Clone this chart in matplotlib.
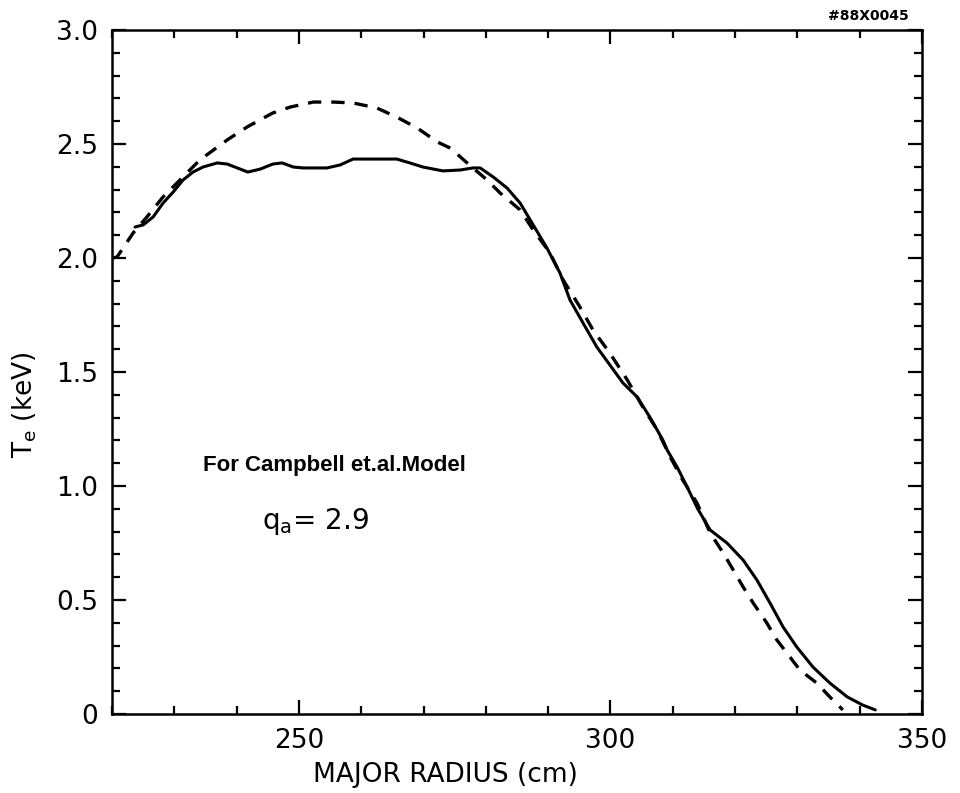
import matplotlib
matplotlib.use("Agg")
import matplotlib.pyplot as plt
from matplotlib.ticker import MultipleLocator

# Measured profile (solid)
r_meas = [223.7, 225.0, 226.6, 228.2, 229.8, 231.4, 233.0, 234.6, 236.9, 238.5,
          240.1, 241.8, 243.8, 245.8, 247.3, 249.1, 250.7, 254.5, 256.6, 258.7,
          265.7, 267.8, 269.9, 273.1, 275.9, 277.9, 279.1, 281.2, 283.4, 285.5,
          287.6, 289.8, 291.9, 293.5, 295.6, 297.8, 299.9, 302.0, 304.3, 306.3,
          308.4, 309.1, 310.7, 312.3, 314.0, 316.0, 318.7, 321.3, 323.5, 325.6,
          327.7, 329.9, 332.5, 335.2, 338.0, 340.5, 342.5]
te_meas = [2.136, 2.145, 2.180, 2.241, 2.289, 2.342, 2.377, 2.399, 2.417, 2.412,
           2.395, 2.377, 2.390, 2.412, 2.417, 2.399, 2.395, 2.395, 2.408, 2.434,
           2.434, 2.417, 2.399, 2.382, 2.386, 2.395, 2.395, 2.355, 2.307, 2.241,
           2.145, 2.044, 1.934, 1.816, 1.715, 1.610, 1.531, 1.452, 1.390, 1.303,
           1.202, 1.158, 1.083, 0.996, 0.900, 0.807, 0.750, 0.675, 0.588, 0.487,
           0.382, 0.294, 0.206, 0.136, 0.075, 0.039, 0.018]

# Campbell et al. model (dashed)
r_model = [220.0, 220.8, 223.4, 225.6, 228.2, 230.9, 234.1, 238.5, 241.7, 245.8,
           248.6, 252.3, 255.5, 258.7, 262.5, 265.7, 269.0, 272.2, 274.3, 277.0,
           280.2, 282.3, 285.5, 287.6, 290.3, 292.4, 295.1, 297.2, 299.9, 302.7,
           305.2, 307.5, 309.6, 311.6, 313.9, 316.0, 318.1, 319.7, 321.3, 322.9,
           325.1, 326.7, 328.8, 330.4, 333.1, 335.2, 337.3]
te_model = [2.000, 2.004, 2.110, 2.180, 2.268, 2.342, 2.430, 2.518, 2.575, 2.636,
            2.662, 2.684, 2.684, 2.680, 2.658, 2.618, 2.570, 2.509, 2.482, 2.417,
            2.342, 2.285, 2.211, 2.123, 2.022, 1.904, 1.785, 1.684, 1.583, 1.465,
            1.346, 1.246, 1.127, 1.026, 0.925, 0.794, 0.706, 0.632, 0.557, 0.487,
            0.399, 0.325, 0.250, 0.193, 0.136, 0.075, 0.018]

fig = plt.figure(figsize=(9.6, 7.93), dpi=100)
ax = fig.add_axes([112/960, 1-714/793, (922-112)/960, (714-30)/793])

ax.plot(r_meas, te_meas, color="black", lw=2.2, solid_joinstyle="round",
        solid_capstyle="round")
ax.plot(r_model, te_model, color="black", lw=2.4, dashes=(4, 3))

ax.set_xlim(220, 350)
ax.set_ylim(0, 3.0)

ax.xaxis.set_major_locator(MultipleLocator(50))
ax.xaxis.set_minor_locator(MultipleLocator(10))
ax.yaxis.set_major_locator(MultipleLocator(0.5))
ax.yaxis.set_minor_locator(MultipleLocator(0.1))

ax.tick_params(which="both", direction="in", top=True, right=True, width=1.6,
               labelsize=19)
ax.tick_params(which="major", length=10, pad=10)
ax.tick_params(which="minor", length=6)

ax.set_xticks([250, 300, 350])
ax.set_xticklabels(["250", "300", "350"])
ax.set_yticks([0, 0.5, 1.0, 1.5, 2.0, 2.5, 3.0])
ax.set_yticklabels(["0", "0.5", "1.0", "1.5", "2.0", "2.5", "3.0"])

for s in ax.spines.values():
    s.set_linewidth(1.8)

fig.text(445/960, 1-775/793, "MAJOR RADIUS (cm)", fontsize=19,
         ha="center", va="center")
fig.text(25/960, 1-405/793, "T$_\\mathregular{e}$ (keV)", fontsize=19,
         rotation=90, ha="center", va="center")

ax.text(0.274, 0.364, "For Campbell et.al.Model", transform=ax.transAxes,
        fontsize=16, family=["DejaVu Sans Condensed", "Liberation Sans"],
        fontweight="bold", ha="center", va="center")
ax.text(0.251, 0.281, "q$_\\mathregular{a}$= 2.9", transform=ax.transAxes,
        fontsize=20, ha="center", va="center")

fig.text(868/960, 1-16/793, "#88X0045", fontsize=10, fontweight="bold",
         ha="center", va="center")

fig.savefig("out.png", dpi=100)
